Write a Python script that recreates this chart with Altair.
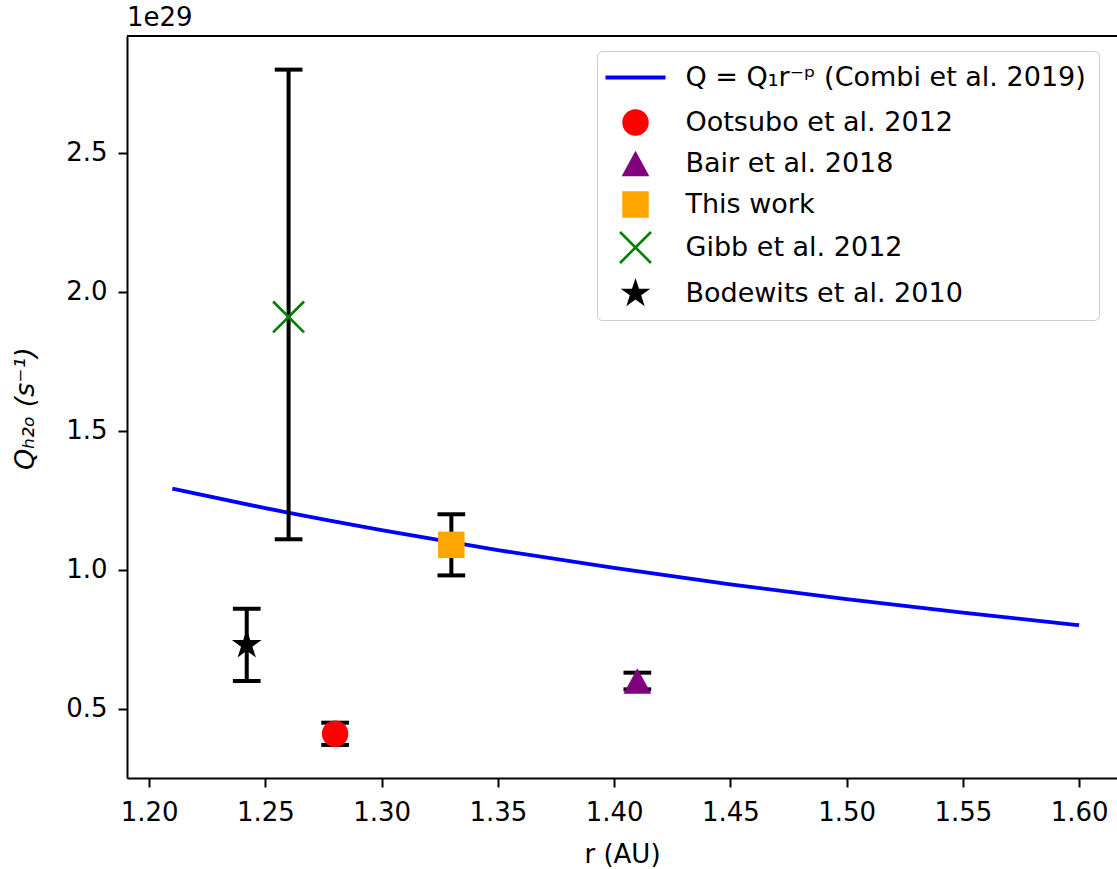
import altair as alt
import pandas as pd

# ---------------- data (values in units of 1e29 s^-1) ----------------
series_names = [
    "Q = Q₁r⁻ᵖ (Combi et al. 2019)",
    "Ootsubo et al. 2012",
    "Bair et al. 2018",
    "This work",
    "Gibb et al. 2012",
    "Bodewits et al. 2010",
]
series_colors = ["#0000ff", "#ff0000", "#800080", "#ffa500", "#008000", "#000000"]

curve_r = [1.21, 1.25, 1.30, 1.35, 1.40, 1.45, 1.50, 1.55, 1.60]
curve_q = [1.292, 1.222, 1.143, 1.071, 1.007, 0.948, 0.895, 0.846, 0.801]

obs_names = series_names[1:]
obs_r = [1.28, 1.41, 1.33, 1.26, 1.242]
obs_q = [0.41, 0.60, 1.09, 1.91, 0.73]
obs_low = [0.37, 0.57, 0.98, 1.11, 0.60]
obs_high = [0.45, 0.63, 1.20, 2.80, 0.86]

x_ticks = [1.20, 1.25, 1.30, 1.35, 1.40, 1.45, 1.50, 1.55, 1.60]
y_ticks = [0.5, 1.0, 1.5, 2.0, 2.5]
offset_label = ["1e29"]

# marker shapes (unit paths, scaled by sqrt(size)/2)
shape_paths = [
    "M-2.27,-0.15H2.27V0.15H-2.27Z M0,-1.3L0,-1.3Z M0,1.3L0,1.3Z",
    "M-1,0A1,1 0 1,0 1,0A1,1 0 1,0 -1,0Z",
    "M0,-0.97L1.05,0.97L-1.05,0.97Z",
    "M-1,-1H1V1H-1Z",
    "M-1.10,-1.24L1.24,1.10L1.10,1.24L-1.24,-1.10Z"
    "M1.10,-1.24L1.24,-1.10L-1.10,1.24L-1.24,1.10Z",
    "M0,-1.18L0.265,-0.365L1.122,-0.365L0.429,0.139L0.694,0.955L0,0.451"
    "L-0.694,0.955L-0.429,0.139L-1.122,-0.365L-0.265,-0.365Z",
]

curve_df = pd.DataFrame({"r": curve_r, "q": curve_q})
obs_df = pd.DataFrame(
    {"series": obs_names, "r": obs_r, "q": obs_q, "low": obs_low, "high": obs_high}
)
caps_df = pd.DataFrame({"r": obs_r + obs_r, "cap": obs_low + obs_high})
label_df = pd.DataFrame({"t": offset_label})

x_scale = alt.Scale(domain=[1.1905, 1.6163], nice=False, zero=False)
y_scale = alt.Scale(domain=[0.251, 2.921], nice=False, zero=False)

FONT = "DejaVu Sans"

x_axis = alt.Axis(
    values=x_ticks, format=".2f", title="r (AU)", grid=False,
    labelFontSize=26, titleFontSize=26, titleFontWeight="normal",
    tickSize=9, tickWidth=2, tickColor="black", domainColor="black",
    domainWidth=2, labelColor="black", titleColor="black",
    labelPadding=12, titlePadding=16, labelFlush=False,
)
y_axis = alt.Axis(
    values=y_ticks, format=".1f", title="Qₕ₂ₒ (s⁻¹)", grid=False,
    labelFontSize=26, titleFontSize=27, titleFontWeight="normal",
    titleFontStyle="italic",
    tickSize=9, tickWidth=2, tickColor="black", domainColor="black",
    domainWidth=2, labelColor="black", titleColor="black",
    labelPadding=11, titleX=-102, titleY=372, titleAngle=270,
    titleBaseline="middle", titleAlign="center", labelFlush=False,
)

# top spine of the frame
top_spine = alt.Chart(curve_df).mark_rule(color="black", strokeWidth=2).encode(
    x=alt.value(0), x2=alt.value(990), y=alt.value(0)
)

# axis offset label ("1e29") above the frame
offset_text = alt.Chart(label_df).mark_text(
    align="left", baseline="alphabetic", fontSize=26, font=FONT, color="black"
).encode(x=alt.value(0), y=alt.value(-10), text="t:N")

line = alt.Chart(curve_df).mark_line(
    color="#0000ff", strokeWidth=3.8, interpolate="monotone"
).encode(
    x=alt.X("r:Q", scale=x_scale, axis=x_axis),
    y=alt.Y("q:Q", scale=y_scale, axis=y_axis),
)

err = alt.Chart(obs_df).mark_rule(color="black", strokeWidth=4).encode(
    x=alt.X("r:Q", scale=x_scale),
    y=alt.Y("low:Q", scale=y_scale),
    y2="high:Q",
)

caps = alt.Chart(caps_df).mark_tick(
    orient="horizontal", size=27.7, thickness=4, color="black", opacity=1
).encode(
    x=alt.X("r:Q", scale=x_scale),
    y=alt.Y("cap:Q", scale=y_scale),
)

legend = alt.Legend(
    title=None, orient="none", legendX=470, legendY=15,
    labelFontSize=27, labelFont=FONT, labelColor="black", labelLimit=700,
    symbolSize=700, symbolStrokeWidth=0, symbolOpacity=1,
    symbolOffset=12, labelOffset=36.5, rowPadding=13, padding=13,
    strokeColor="#cccccc", fillColor="rgba(255,255,255,0.8)", cornerRadius=5,
)

points = alt.Chart(obs_df).mark_point(
    filled=True, size=700, opacity=1, strokeWidth=0
).encode(
    x=alt.X("r:Q", scale=x_scale),
    y=alt.Y("q:Q", scale=y_scale),
    color=alt.Color(
        "series:N",
        scale=alt.Scale(domain=series_names, range=series_colors),
        legend=legend,
    ),
    shape=alt.Shape(
        "series:N",
        scale=alt.Scale(domain=series_names, range=shape_paths),
        legend=legend,
    ),
)

chart = alt.layer(top_spine, offset_text, line, err, caps, points).properties(
    width=990,
    height=742,
    autosize="none",
    padding={"left": 127, "top": 36, "right": 0, "bottom": 91},
).configure(font=FONT).configure_view(stroke=None)

chart.save("out.html", embed_options={"renderer": "svg", "actions": False})
